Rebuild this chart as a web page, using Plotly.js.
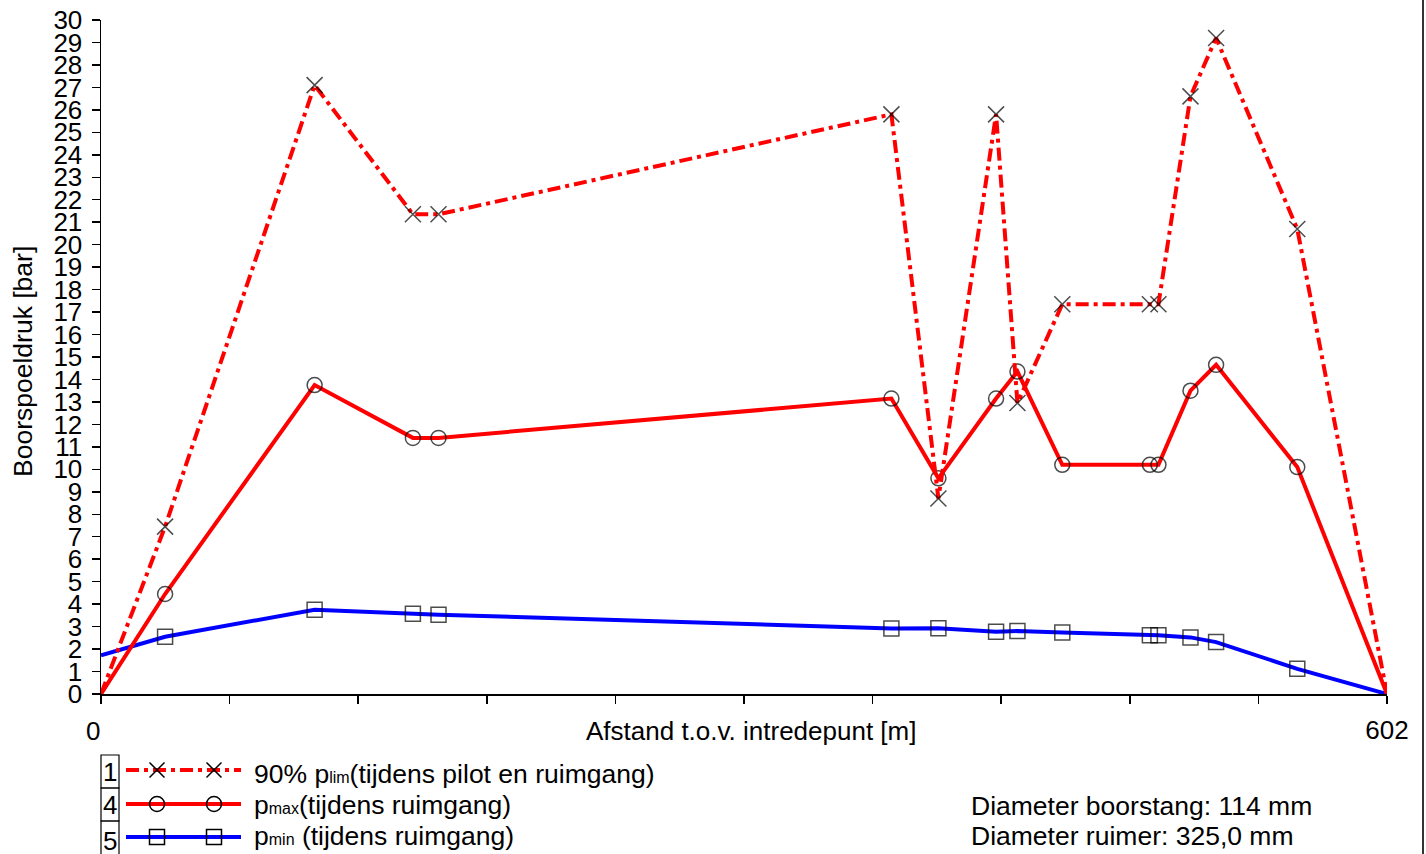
<!DOCTYPE html>
<html>
<head>
<meta charset="utf-8">
<script src="https://cdn.plot.ly/plotly-3.0.1.min.js"></script>
<style>html,body{margin:0;padding:0;background:#fff;}#chart{width:1426px;height:854px;}</style>
</head>
<body>
<div id="chart"></div>
<script>
// ---- data ----
const distance = [0, 30, 100, 146, 158, 370, 392, 419, 429, 450, 491, 495, 510, 522, 560, 602];
const pLim90 = [0, 7.45, 27.1, 21.35, 21.35, 25.8, 8.7, 25.8, 12.95, 17.35, 17.35, 17.35, 26.6, 29.2, 20.7, 0];
const pMax = [0, 4.45, 13.75, 11.4, 11.4, 13.15, 9.6, 13.15, 14.35, 10.2, 10.2, 10.2, 13.5, 14.65, 10.1, 0];
const pMin = [1.72, 2.55, 3.75, 3.57, 3.53, 2.92, 2.93, 2.77, 2.8, 2.74, 2.62, 2.62, 2.52, 2.31, 1.12, 0];
const xMax = 602;
const yMax = 30;
const xTickLabels = ['0', '602'];
const seriesNames = [
  '90% p<span style="font-size:16px">lim</span>(tijdens pilot en ruimgang)',
  'p<span style="font-size:16px">max</span>(tijdens ruimgang)',
  'p<span style="font-size:16px">min</span> (tijdens ruimgang)'
];
const seriesNumbers = ['1', '4', '5'];
const infoLines = ['Diameter boorstang: 114 mm', 'Diameter ruimer: 325,0 mm'];
const xTitle = 'Afstand t.o.v. intredepunt [m]';
const yTitle = 'Boorspoeldruk [bar]';

// ---- layout helpers (pixel -> paper) ----
const W = 1426, H = 854;
const ML = 101, MR = 39, MT = 20, MB = 160;
const PW = W - ML - MR, PH = H - MT - MB;
const px = x => (x - ML) / PW;
const py = y => (H - MB - y) / PH;

const FONT = 'Liberation Sans, Arial, sans-serif';
const RED = '#ff0000', BLUE = '#0000ff';
const DASHDOT = '13px,5px,4px,5px';
const TXT = 26.5;

function markerSizes(n, s) {
  return Array.from({length: n}, (_, i) => (i === 0 || i === n - 1) ? 0 : s);
}
const n = distance.length;

const traces = [
  {
    x: distance, y: pMin, type: 'scatter', mode: 'lines+markers',
    line: {color: BLUE, width: 4},
    marker: {symbol: 'square-open', size: markerSizes(n, 15), color: '#000', line: {width: 1.5, color: '#000'}},
    hoverinfo: 'x+y', showlegend: false
  },
  {
    x: distance, y: pMax, type: 'scatter', mode: 'lines+markers',
    line: {color: RED, width: 4},
    marker: {symbol: 'circle-open', size: markerSizes(n, 15), color: '#000', line: {width: 1.5, color: '#000'}},
    hoverinfo: 'x+y', showlegend: false
  },
  {
    x: distance, y: pLim90, type: 'scatter', mode: 'lines+markers',
    line: {color: RED, width: 4, dash: DASHDOT},
    marker: {symbol: 'x-thin-open', size: markerSizes(n, 16), color: '#000', line: {width: 1.5, color: '#000'}},
    hoverinfo: 'x+y', showlegend: false
  }
];

// x ticks every tenth of the range, labelled only at the far end (0 is an annotation)
const xTickVals = [];
for (let i = 0; i <= 10; i++) xTickVals.push(+(xMax * i / 10).toFixed(2));
const xTickText = xTickVals.map((v, i) => (i === 10 ? xTickLabels[1] : ''));

const shapes = [];
const annotations = [];

// right frame line
shapes.push({type: 'line', xref: 'paper', yref: 'paper', x0: px(1423), x1: px(1423), y0: py(0), y1: py(H),
  line: {color: '#333', width: 2}});

// legend boxes
const boxRows = [[755, 788], [788, 821], [821, 862]];
const lineY = [770, 804, 837];
const numY = [772, 805, 841];
boxRows.forEach((r, i) => {
  shapes.push({type: 'rect', xref: 'paper', yref: 'paper', x0: px(101), x1: px(119), y0: py(r[1]), y1: py(r[0]),
    line: {color: '#000', width: 1.2}});
  annotations.push({xref: 'paper', yref: 'paper', x: px(110), y: py(numY[i]), text: seriesNumbers[i],
    showarrow: false, xanchor: 'center', yanchor: 'middle', font: {family: FONT, size: 26, color: '#000'}});
});
// legend line samples
const sampleStyles = [
  {color: RED, width: 4, dash: DASHDOT},
  {color: RED, width: 4},
  {color: BLUE, width: 4}
];
sampleStyles.forEach((st, i) => {
  shapes.push({type: 'line', xref: 'paper', yref: 'paper', x0: px(126), x1: px(241), y0: py(lineY[i]), y1: py(lineY[i]),
    line: st});
});
// legend marker samples
const mxs = [157, 214];
const hs = 7.5;
mxs.forEach(mx => {
  const y = lineY[0];
  shapes.push({type: 'line', xref: 'paper', yref: 'paper', x0: px(mx - hs), x1: px(mx + hs), y0: py(y - hs), y1: py(y + hs), line: {color: '#000', width: 1.5}});
  shapes.push({type: 'line', xref: 'paper', yref: 'paper', x0: px(mx - hs), x1: px(mx + hs), y0: py(y + hs), y1: py(y - hs), line: {color: '#000', width: 1.5}});
  const y2 = lineY[1];
  shapes.push({type: 'circle', xref: 'paper', yref: 'paper', x0: px(mx - hs), x1: px(mx + hs), y0: py(y2 + hs), y1: py(y2 - hs), line: {color: '#000', width: 1.5}});
  const y3 = lineY[2];
  shapes.push({type: 'rect', xref: 'paper', yref: 'paper', x0: px(mx - hs), x1: px(mx + hs), y0: py(y3 + hs), y1: py(y3 - hs), line: {color: '#000', width: 1.5}});
});
// legend texts
const textY = [774, 805, 836];
seriesNames.forEach((t, i) => {
  annotations.push({xref: 'paper', yref: 'paper', x: px(252), y: py(textY[i]), text: t, showarrow: false,
    xanchor: 'left', yanchor: 'middle', font: {family: FONT, size: TXT, color: '#000'}});
});
// info texts
const infoY = [806, 836];
infoLines.forEach((t, i) => {
  annotations.push({xref: 'paper', yref: 'paper', x: px(969), y: py(infoY[i]), text: t, showarrow: false,
    xanchor: 'left', yanchor: 'middle', font: {family: FONT, size: TXT, color: '#000'}});
});
// "0" tick label at the origin
annotations.push({xref: 'paper', yref: 'paper', x: px(93), y: py(731), text: xTickLabels[0], showarrow: false,
  xanchor: 'center', yanchor: 'middle', font: {family: FONT, size: 26, color: '#000'}});
// axis titles
annotations.push({xref: 'paper', yref: 'paper', x: px(751), y: py(731), text: xTitle, showarrow: false,
  xanchor: 'center', yanchor: 'middle', font: {family: FONT, size: 26, color: '#000'}});
annotations.push({xref: 'paper', yref: 'paper', x: px(23), y: py(362), text: yTitle, showarrow: false, textangle: -90,
  xanchor: 'center', yanchor: 'middle', font: {family: FONT, size: 26.5, color: '#000'}});

const axisCommon = {showgrid: false, zeroline: false, showline: false};

const layout = {
  width: W, height: H,
  margin: {l: ML, r: MR, t: MT, b: MB, pad: 0},
  paper_bgcolor: '#fff', plot_bgcolor: '#fff',
  showlegend: false,
  font: {family: FONT, size: 26, color: '#000'},
  xaxis: Object.assign({}, axisCommon, {
    range: [0, xMax], showline: true, linecolor: '#000', linewidth: 1.5,
    tickmode: 'array', tickvals: xTickVals, ticktext: xTickText,
    ticks: 'outside', ticklen: 8, tickwidth: 1.5, tickcolor: '#000',
    ticklabelstandoff: 4, tickfont: {family: FONT, size: 26, color: '#000'}
  }),
  yaxis: Object.assign({}, axisCommon, {
    range: [0, yMax], showline: true, linecolor: '#000', linewidth: 1.5,
    tickmode: 'linear', tick0: 0, dtick: 1,
    ticks: 'outside', ticklen: 8, tickwidth: 1.5, tickcolor: '#000',
    ticklabelstandoff: 4, tickfont: {family: FONT, size: 26, color: '#000'}
  }),
  xaxis2: Object.assign({}, axisCommon, {
    overlaying: 'x', anchor: 'y', side: 'bottom', range: [0, xMax],
    tickmode: 'array', tickvals: xTickVals, showticklabels: false,
    ticks: 'inside', ticklen: 8, tickwidth: 1.5, tickcolor: '#000'
  }),
  yaxis2: Object.assign({}, axisCommon, {
    overlaying: 'y', anchor: 'x', side: 'left', range: [0, yMax],
    tickmode: 'linear', tick0: 0, dtick: 1, showticklabels: false,
    ticks: 'inside', ticklen: 7, tickwidth: 1.5, tickcolor: '#000'
  }),
  shapes: shapes,
  annotations: annotations
};

Plotly.newPlot('chart', traces, layout, {displayModeBar: false, staticPlot: true});
</script>
</body>
</html>
